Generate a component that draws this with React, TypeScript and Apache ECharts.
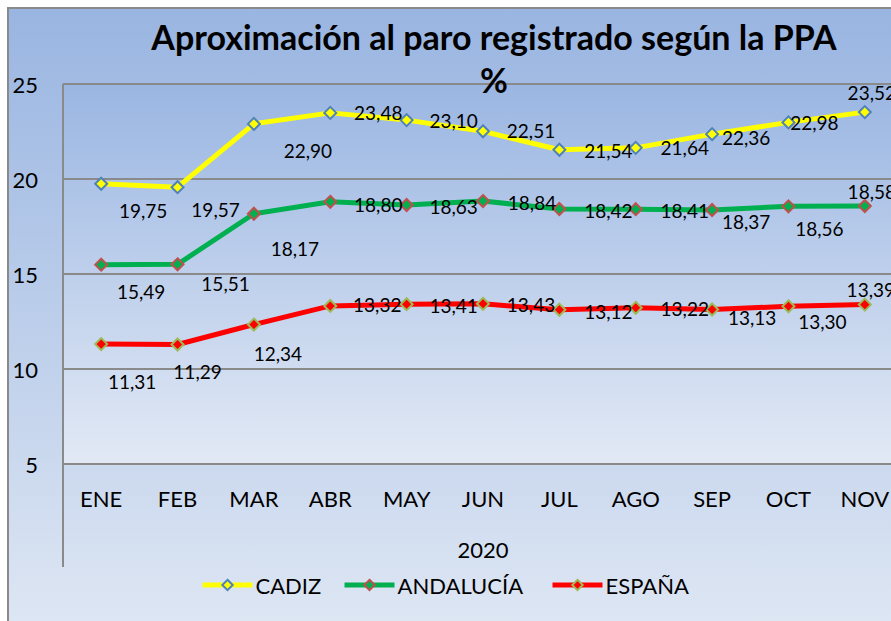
import React, { useEffect, useRef } from "react";
import * as echarts from "echarts";

const months = ["ENE", "FEB", "MAR", "ABR", "MAY", "JUN", "JUL", "AGO", "SEP", "OCT", "NOV"];
const cadiz = [19.75, 19.57, 22.9, 23.48, 23.1, 22.51, 21.54, 21.64, 22.36, 22.98, 23.52];
const andalucia = [15.49, 15.51, 18.17, 18.8, 18.63, 18.84, 18.42, 18.41, 18.37, 18.56, 18.58];
const espana = [11.31, 11.29, 12.34, 13.32, 13.41, 13.43, 13.12, 13.22, 13.13, 13.3, 13.39];
const yearLabel = "2020";
const yMin = 5;
const yMax = 25;
const yStep = 5;

// label placement (style), offsets of label centre from the point
const cadizLabelOffsets = [[42, 27], [38, 22], [54, 27], [48, 0], [47, 0], [48, -1], [49, 1], [49, 0], [34, 3], [26, 0], [7, -20]];
const andaluciaLabelOffsets = [[40, 27], [48, 19], [41, 35], [48, 3], [47, 1], [49, 1], [49, 1], [49, 1], [34, 12], [31, 22], [7, -14]];
const espanaLabelOffsets = [[31, 37], [20, 27], [24, 29], [47, -1], [47, 1], [48, 1], [49, 2], [49, 1], [40, 8], [34, 15], [6, -15]];

const FONT = "Lato, 'Open Sans', sans-serif";
const fmt = (v: number) => v.toFixed(2).replace(".", ",");

function makeSeries(name: string, values: number[], offsets: number[][], line: string, fill: string, border: string) {
  return {
    name,
    type: "line",
    data: values.map((v, i) => ({ value: v, label: { offset: offsets[i] } })),
    symbol: "diamond",
    symbolSize: 12,
    lineStyle: { color: line, width: 5 },
    itemStyle: { color: fill, borderColor: border, borderWidth: 2 },
    label: {
      show: true,
      position: "inside",
      formatter: (p: any) => fmt(p.value),
      fontFamily: FONT,
      fontSize: 19,
      color: "#000",
      align: "center",
      verticalAlign: "middle",
    },
    emphasis: { disabled: true },
  };
}

export default function App() {
  const ref = useRef<HTMLDivElement>(null);
  useEffect(() => {
    if (!ref.current) return;
    const chart = echarts.init(ref.current, null, { renderer: "svg" });
    const legendCommon = {
      top: 569,
      itemWidth: 50,
      itemHeight: 13,
      itemGap: 4,
      lineStyle: { width: 5 },
      textStyle: { fontFamily: FONT, fontSize: 22, color: "#000", padding: [0, 0, 0, -2] },
    };
    chart.setOption({
      animation: false,
      title: {
        text: "Aproximación al paro registrado según la PPA\n%",
        left: 489,
        top: 10,
        textAlign: "center",
        textStyle: { fontFamily: FONT, fontSize: 34, fontWeight: "bold", color: "#000", lineHeight: 43 },
      },
      graphic: [
        {
          type: "rect",
          z: -10,
          shape: { x: 8, y: 8, width: 900, height: 640 },
          style: {
            fill: new echarts.graphic.LinearGradient(0, 0, 0, 1, [
              { offset: 0, color: "#99b5e1" },
              { offset: 1, color: "#e0e8f4" },
            ]),
            stroke: "#8a8a8a",
            lineWidth: 2,
          },
        },
        {
          type: "line",
          z: 10,
          shape: { x1: 63, y1: 84, x2: 63, y2: 567 },
          style: { stroke: "#8a8a8a", lineWidth: 2 },
        },
      ],
      legend: [
        { ...legendCommon, data: ["CADIZ"], left: 195 },
        { ...legendCommon, data: ["ANDALUCÍA"], left: 337 },
        { ...legendCommon, data: ["ESPAÑA"], left: 545 },
      ],
      grid: {
        left: 63,
        top: 84,
        width: 840,
        height: 380,
        containLabel: false,
        outerBoundsMode: "none",
        show: true,
        borderWidth: 0,
        backgroundColor: new echarts.graphic.LinearGradient(0, 0, 0, 1, [
          { offset: 0, color: "#9ab6e2" },
          { offset: 1, color: "#e2e9f5" },
        ]),
      },
      xAxis: {
        type: "category",
        data: months,
        boundaryGap: true,
        axisLine: { show: true, lineStyle: { color: "#8a8a8a", width: 2 } },
        axisTick: { show: false },
        axisLabel: { interval: 0, margin: 23, fontFamily: FONT, fontSize: 22, color: "#000" },
        name: yearLabel,
        nameLocation: "middle",
        nameGap: 74,
        nameTextStyle: { fontFamily: FONT, fontSize: 22, color: "#000" },
      },
      yAxis: {
        type: "value",
        min: yMin,
        max: yMax,
        interval: yStep,
        axisLine: { show: false },
        axisTick: { show: false },
        splitLine: { show: true, lineStyle: { color: "#8a8a8a", width: 2 } },
        axisLabel: { margin: 25, fontFamily: FONT, fontSize: 22, color: "#000" },
      },
      series: [
        makeSeries("CADIZ", cadiz, cadizLabelOffsets, "#ffff00", "#ffff00", "#4f81bd"),
        makeSeries("ANDALUCÍA", andalucia, andaluciaLabelOffsets, "#00b050", "#00b050", "#c0504d"),
        makeSeries("ESPAÑA", espana, espanaLabelOffsets, "#ff0000", "#ff0000", "#9bbb59"),
      ],
    });
    return () => chart.dispose();
  }, []);
  return <div ref={ref} style={{ position: "absolute", left: 0, top: 0, width: 891, height: 621 }} />;
}
